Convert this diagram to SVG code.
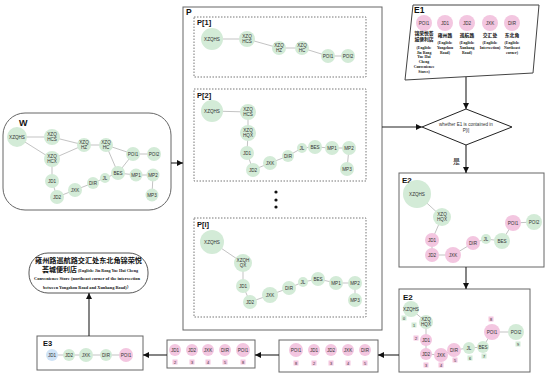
<svg xmlns="http://www.w3.org/2000/svg" width="550" height="378" viewBox="0 0 550 378">
<style>
.g{fill:#d3ebd7}
.p{fill:#f3c6e0}
.b{fill:#cfe3f6}
.t{font-family:"Liberation Sans",Arial,sans-serif;font-size:4.6px;fill:#333;text-anchor:middle}
.e{stroke:#9a9a9a;stroke-width:0.6;fill:none}
.c{stroke:#222;stroke-width:1.1;fill:none;marker-end:url(#ah)}
.box{fill:#fff;stroke:#666;stroke-width:1}
.dash{fill:none;stroke:#777;stroke-width:1;stroke-dasharray:1.5 1.5}
.lab{font-family:"Liberation Sans",Arial,sans-serif;font-weight:bold;fill:#111}
.cn{font-family:"Liberation Serif","Noto Sans CJK SC",serif;font-weight:bold;fill:#111;text-anchor:middle}
.en{font-family:"Liberation Serif","Noto Sans CJK SC",serif;font-weight:bold;fill:#111;text-anchor:middle;font-size:3.8px}
.n{font-family:"Liberation Sans",Arial,sans-serif;font-size:3.8px;fill:#333;text-anchor:middle}
</style>
<defs>
<marker id="ah" markerUnits="userSpaceOnUse" markerWidth="6" markerHeight="6" refX="6" refY="3" orient="auto"><path d="M0,0 L6,3 L0,6 z" fill="#111"/></marker>
</defs>
<rect width="550" height="378" fill="#fff"/>

<!-- containers -->
<g id="W-box"><rect x="3" y="113" width="168" height="97" rx="22" class="box" stroke="#222"/><text x="19" y="126" class="lab" font-size="9">W</text></g>
<g id="P-box"><rect x="183" y="7" width="199" height="323" class="box"/><text x="186" y="15" class="lab" font-size="8.5">P</text>
<rect x="194" y="17" width="172" height="60" class="dash"/><text x="197" y="25" class="lab" font-size="7.5">P[1]</text>
<rect x="194" y="89" width="172" height="92" class="dash"/><text x="197" y="98" class="lab" font-size="7.5">P[2]</text>
<rect x="194" y="218" width="172" height="99" class="dash"/><text x="197" y="227" class="lab" font-size="7.5">P[i]</text>
<circle cx="276" cy="192" r="1.6" fill="#111"/><circle cx="276" cy="200" r="1.6" fill="#111"/><circle cx="276" cy="207" r="1.6" fill="#111"/></g>
<g id="E1-box"><polygon points="413,5 539,5 533,73 405,80" fill="#fff" stroke="#444" stroke-width="1"/><text x="414" y="13" class="lab" font-size="8.5">E1</text></g>
<g id="decision"><polygon points="466,109 512,127 466,145 422,127" fill="#fff" stroke="#222" stroke-width="1"/>
<text x="466" y="126" class="t" font-size="4.2">whether E1 is contained in</text><text x="466" y="132" class="t" font-size="4.2">P[i]</text></g>
<g id="E2-box"><rect x="399" y="173" width="145" height="94" class="box"/><text x="402" y="183" class="lab" font-size="8">E2</text></g>
<g id="E2b-box"><rect x="399" y="289" width="131" height="83" class="box"/><text x="403" y="300" class="lab" font-size="8">E2</text></g>
<g id="A-box"><rect x="279" y="340" width="99" height="32" class="box"/></g>
<g id="B-box"><rect x="167" y="340" width="88" height="28" class="box"/></g>
<g id="E3-box"><rect x="37" y="336" width="106" height="34" class="box"/><text x="43" y="346" class="lab" font-size="7.5">E3</text></g>
<g id="result"><rect x="29" y="253" width="119" height="40" rx="19" fill="#fff" stroke="#444" stroke-width="0.9"/>
<text x="88.5" y="263" class="cn" font-size="7" textLength="107" lengthAdjust="spacingAndGlyphs">雍州路巡航路交汇处东北角锦荣悦</text>
<text x="59.5" y="272" class="cn" font-size="7" textLength="35" lengthAdjust="spacingAndGlyphs">荟城便利店</text>
<text x="108" y="271.5" class="cn" font-size="4" textLength="60" lengthAdjust="spacingAndGlyphs">(English:  Jin Rong Yue Hui Cheng</text>
<text x="87" y="280" class="cn" font-size="4" textLength="106" lengthAdjust="spacingAndGlyphs">Convenience Store (northeast corner of the intersection</text>
<text x="87" y="289" class="cn" font-size="4" textLength="88" lengthAdjust="spacingAndGlyphs">between Yongzhou Road and Xunhang Road)）</text></g>

<!-- connectors -->
<g id="connectors">
<line x1="171" y1="163" x2="183" y2="163" class="c"/>
<line x1="466" y1="77" x2="466" y2="109" class="c"/>
<line x1="382" y1="127" x2="422" y2="127" class="c"/>
<line x1="466" y1="145" x2="466" y2="173" class="c"/>
<line x1="466" y1="267" x2="466" y2="289" class="c"/>
<line x1="399" y1="355" x2="378" y2="355" class="c"/>
<line x1="279" y1="355" x2="255" y2="355" class="c"/>
<line x1="167" y1="355" x2="143" y2="355" class="c"/>
<line x1="89" y1="336" x2="89" y2="293" class="c"/>
<text x="453" y="164" font-family="'Noto Sans CJK SC',sans-serif" font-size="7" fill="#222">是</text>
<!-- W edges -->
<path class="e" d="M17,137 L52,137 M17,137 L52,159 M52,137 L84,145 M52,159 L84,145 M84,145 L106,145 M106,145 L133,154 M106,145 L118,173 M133,154 L154,154 M118,173 L133,154 M52,159 L52,181 M52,181 L57,197 M57,197 L75,190 M75,190 L93,183 M93,183 L105,178 M105,178 L118,173 M118,173 L136,175 M136,175 L153,175 M153,175 L152,195"/>
<!-- P1 edges -->
<path class="e" d="M212,39 L247,39 L279,48 L302,48 L328,56 L348,56"/>
<!-- P2 edges -->
<path class="e" d="M212,111 L248,112 L248,133 L247,153 L253,170 L270,163 L288,156 L302,148 L315,147 L332,148 L349,148 L347,169"/>
<!-- Pi edges -->
<path class="e" d="M212,242 L243,263 L243,286 L250,302 L270,295 L289,288 L303,282 L318,279 L336,283 L355,283 L355,300"/>
<!-- E2 edges -->
<path class="e" d="M417,194 L442,217 L432,240 L432,255 L453,255 L473,243 L486,239 L502,241 L513,223 L534,222"/>
<path class="e" d="M411,309 L426,322 L426,340 L426,354 L441,355 L454,350 L469,348 L483,347 L492,332 L516,332"/>
<!-- row edges -->
<path class="e" d="M52,355 L126,355"/>
</g>

<!-- W nodes -->
<g id="w-xzqhs"><circle cx="17" cy="137" r="10" class="g"/><text x="17" y="138.7" class="t">XZQHS</text></g>
<g id="w-hcs"><circle cx="52" cy="137" r="8" class="g"/><text x="52" y="136" class="t">XZQ</text><text x="52" y="141" class="t">HCS</text></g>
<g id="w-hcx"><circle cx="52" cy="159" r="8" class="g"/><text x="52" y="158" class="t">XZQ</text><text x="52" y="163" class="t">HCX</text></g>
<g id="w-hz"><circle cx="84" cy="145" r="7" class="g"/><text x="84" y="144" class="t">XZQ</text><text x="84" y="149" class="t">HZ</text></g>
<g id="w-hc"><circle cx="106" cy="145" r="7" class="g"/><text x="106" y="144" class="t">XZQ</text><text x="106" y="149" class="t">HC</text></g>
<g id="w-poi1"><circle cx="133" cy="154" r="7" class="g"/><text x="133" y="155.6" class="t">POI1</text></g>
<g id="w-poi2"><circle cx="154" cy="154" r="7" class="g"/><text x="154" y="155.6" class="t">POI2</text></g>
<g id="w-bes"><circle cx="118" cy="173" r="7" class="g"/><text x="118" y="174.6" class="t">BES</text></g>
<g id="w-mp1"><circle cx="136" cy="175" r="6.5" class="g"/><text x="136" y="176.6" class="t">MP1</text></g>
<g id="w-mp2"><circle cx="153" cy="175" r="6.5" class="g"/><text x="153" y="176.6" class="t">MP2</text></g>
<g id="w-mp3"><circle cx="152" cy="195" r="6.5" class="g"/><text x="152" y="196.6" class="t">MP3</text></g>
<g id="w-jd1"><circle cx="52" cy="181" r="7" class="g"/><text x="52" y="182.6" class="t">JD1</text></g>
<g id="w-jd2"><circle cx="57" cy="197" r="7" class="g"/><text x="57" y="198.6" class="t">JD2</text></g>
<g id="w-jxk"><circle cx="75" cy="190" r="7" class="g"/><text x="75" y="191.6" class="t">JXK</text></g>
<g id="w-dir"><circle cx="93" cy="183" r="6" class="g"/><text x="93" y="184.6" class="t">DIR</text></g>
<g id="w-jl"><circle cx="105" cy="178" r="5" class="g"/><text x="105" y="179.6" class="t">JL</text></g>

<!-- P[1] nodes -->
<g id="p1-xzqhs"><circle cx="212" cy="39" r="11" class="g"/><text x="212" y="40.6" class="t">XZQHS</text></g>
<g id="p1-hcs"><circle cx="247" cy="39" r="8" class="g"/><text x="247" y="38" class="t">XZQ</text><text x="247" y="43" class="t">HCS</text></g>
<g id="p1-hz"><circle cx="279" cy="48" r="7" class="g"/><text x="279" y="47" class="t">XZQ</text><text x="279" y="52" class="t">HZ</text></g>
<g id="p1-hc"><circle cx="302" cy="48" r="7" class="g"/><text x="302" y="47" class="t">XZQ</text><text x="302" y="52" class="t">HC</text></g>
<g id="p1-poi1"><circle cx="328" cy="56" r="7" class="g"/><text x="328" y="57.6" class="t">POI1</text></g>
<g id="p1-poi2"><circle cx="348" cy="56" r="7" class="g"/><text x="348" y="57.6" class="t">POI2</text></g>

<!-- P[2] nodes -->
<g id="p2-xzqhs"><circle cx="212" cy="111" r="11" class="g"/><text x="212" y="112.6" class="t">XZQHS</text></g>
<g id="p2-hcs"><circle cx="248" cy="112" r="8" class="g"/><text x="248" y="111" class="t">XZQ</text><text x="248" y="116" class="t">HCS</text></g>
<g id="p2-hqx"><circle cx="248" cy="133" r="8" class="g"/><text x="248" y="132" class="t">XZQ</text><text x="248" y="137" class="t">HQX</text></g>
<g id="p2-jd1"><circle cx="247" cy="153" r="7" class="g"/><text x="247" y="154.6" class="t">JD1</text></g>
<g id="p2-jd2"><circle cx="253" cy="170" r="7" class="g"/><text x="253" y="171.6" class="t">JD2</text></g>
<g id="p2-jxk"><circle cx="270" cy="163" r="7" class="g"/><text x="270" y="164.6" class="t">JXK</text></g>
<g id="p2-dir"><circle cx="288" cy="156" r="6" class="g"/><text x="288" y="157.6" class="t">DIR</text></g>
<g id="p2-jl"><circle cx="302" cy="148" r="5" class="g"/><text x="302" y="149.6" class="t">JL</text></g>
<g id="p2-bes"><circle cx="315" cy="147" r="7" class="g"/><text x="315" y="148.6" class="t">BES</text></g>
<g id="p2-mp1"><circle cx="332" cy="148" r="7" class="g"/><text x="332" y="149.6" class="t">MP1</text></g>
<g id="p2-mp2"><circle cx="349" cy="148" r="7" class="g"/><text x="349" y="149.6" class="t">MP2</text></g>
<g id="p2-mp3"><circle cx="347" cy="169" r="7" class="g"/><text x="347" y="170.6" class="t">MP3</text></g>

<!-- P[i] nodes -->
<g id="pi-xzqhs"><circle cx="212" cy="242" r="12" class="g"/><text x="212" y="243.6" class="t">XZQHS</text></g>
<g id="pi-xzqhqx"><circle cx="243" cy="263" r="9" class="g"/><text x="243" y="262" class="t">XZQH</text><text x="243" y="267" class="t">QX</text></g>
<g id="pi-jd1"><circle cx="243" cy="286" r="7" class="g"/><text x="243" y="287.6" class="t">JD1</text></g>
<g id="pi-jd2"><circle cx="250" cy="302" r="7" class="g"/><text x="250" y="303.6" class="t">JD2</text></g>
<g id="pi-jxk"><circle cx="270" cy="295" r="8" class="g"/><text x="270" y="296.6" class="t">JXK</text></g>
<g id="pi-dir"><circle cx="289" cy="288" r="7" class="g"/><text x="289" y="289.6" class="t">DIR</text></g>
<g id="pi-jl"><circle cx="303" cy="282" r="5" class="g"/><text x="303" y="283.6" class="t">JL</text></g>
<g id="pi-bes"><circle cx="318" cy="279" r="7" class="g"/><text x="318" y="280.6" class="t">BES</text></g>
<g id="pi-mp1"><circle cx="336" cy="283" r="7" class="g"/><text x="336" y="284.6" class="t">MP1</text></g>
<g id="pi-mp2"><circle cx="355" cy="283" r="7" class="g"/><text x="355" y="284.6" class="t">MP2</text></g>
<g id="pi-mp3"><circle cx="355" cy="300" r="7" class="g"/><text x="355" y="301.6" class="t">MP3</text></g>

<!-- E1 nodes -->
<g id="e1-poi1"><circle cx="424" cy="23" r="8" class="p"/><text x="424" y="24.6" class="t">POI1</text>
<text x="424" y="35" class="cn" font-size="4.8">锦荣悦荟</text><text x="424" y="41" class="cn" font-size="4.8">城便利店</text>
<text x="424" y="49" class="en">(English:</text><text x="424" y="53.5" class="en">Jin Rong</text><text x="424" y="58" class="en">Yue Hui</text><text x="424" y="63" class="en">Cheng</text><text x="424" y="68" class="en">Convenience</text><text x="424" y="73" class="en">Stores)</text></g>
<g id="e1-jd1"><circle cx="445" cy="23" r="8" class="p"/><text x="445" y="24.6" class="t">JD1</text>
<text x="445" y="37" class="cn" font-size="4.8">雍州路</text><text x="445" y="43.5" class="en">(English:</text><text x="445" y="48.5" class="en">Yongzhou</text><text x="445" y="54" class="en">Road)</text></g>
<g id="e1-jd2"><circle cx="467" cy="23" r="8" class="p"/><text x="467" y="24.6" class="t">JD2</text>
<text x="467" y="37" class="cn" font-size="4.8">巡航路</text><text x="467" y="43.5" class="en">(English:</text><text x="467" y="48.5" class="en">Xunhang</text><text x="467" y="54" class="en">Road)</text></g>
<g id="e1-jxk"><circle cx="490" cy="23" r="8" class="p"/><text x="490" y="24.6" class="t">JXK</text>
<text x="490" y="37" class="cn" font-size="4.8">交汇处</text><text x="490" y="43.5" class="en">(English:</text><text x="490" y="48.5" class="en">Intersection)</text></g>
<g id="e1-dir"><circle cx="512" cy="23" r="8" class="p"/><text x="512" y="24.6" class="t">DIR</text>
<text x="512" y="37" class="cn" font-size="4.8">东北角</text><text x="512" y="43.5" class="en">(English:</text><text x="512" y="48.5" class="en">Northeast</text><text x="512" y="54" class="en">corner)</text></g>

<!-- E2 nodes -->
<g id="e2-xzqhs"><circle cx="417" cy="194" r="14" class="g"/><text x="417" y="195.6" class="t">XZQHS</text></g>
<g id="e2-hqx"><circle cx="442" cy="217" r="9" class="g"/><text x="442" y="216" class="t">XZQ</text><text x="442" y="221" class="t">HQX</text></g>
<g id="e2-jd1"><circle cx="432" cy="240" r="7" class="p"/><text x="432" y="241.6" class="t">JD1</text></g>
<g id="e2-jd2"><circle cx="432" cy="255" r="7" class="p"/><text x="432" y="256.6" class="t">JD2</text></g>
<g id="e2-jxk"><circle cx="453" cy="255" r="8" class="p"/><text x="453" y="256.6" class="t">JXK</text></g>
<g id="e2-dir"><circle cx="473" cy="243" r="7" class="p"/><text x="473" y="244.6" class="t">DIR</text></g>
<g id="e2-jl"><circle cx="486" cy="239" r="5" class="g"/><text x="486" y="240.6" class="t">JL</text></g>
<g id="e2-bes"><circle cx="502" cy="241" r="8" class="g"/><text x="502" y="242.6" class="t">BES</text></g>
<g id="e2-poi1"><circle cx="513" cy="223" r="8" class="p"/><text x="513" y="224.6" class="t">POI1</text></g>
<g id="e2-poi2"><circle cx="534" cy="222" r="8" class="g"/><text x="534" y="223.6" class="t">POI2</text></g>

<!-- E2 numbered nodes -->
<g id="e2b-xzqhs"><circle cx="411" cy="309" r="8" class="g"/><text x="411" y="310.6" class="t">XZQHS</text><rect x="401.5" y="315.5" width="5" height="5" class="g"/><text x="404" y="319.5" class="n">0</text></g>
<g id="e2b-hqx"><circle cx="426" cy="322" r="7" class="g"/><text x="426" y="321" class="t">XZQ</text><text x="426" y="326" class="t">HQX</text><rect x="411.5" y="322.5" width="5" height="5" class="g"/><text x="414" y="326.5" class="n">1</text></g>
<g id="e2b-jd1"><circle cx="426" cy="340" r="6" class="p"/><text x="426" y="341.6" class="t">JD1</text><rect x="413.5" y="335.5" width="5" height="5" class="p"/><text x="416" y="339.5" class="n">2</text></g>
<g id="e2b-jd2"><circle cx="426" cy="354" r="6" class="p"/><text x="426" y="355.6" class="t">JD2</text><rect x="423.5" y="362.5" width="5" height="5" class="p"/><text x="426" y="366.5" class="n">3</text></g>
<g id="e2b-jxk"><circle cx="441" cy="355" r="7" class="p"/><text x="441" y="356.6" class="t">JXK</text><rect x="438.5" y="362.5" width="5" height="5" class="p"/><text x="441" y="366.5" class="n">4</text></g>
<g id="e2b-dir"><circle cx="454" cy="350" r="7" class="p"/><text x="454" y="351.6" class="t">DIR</text><rect x="452.5" y="357.5" width="5" height="5" class="p"/><text x="455" y="361.5" class="n">5</text></g>
<g id="e2b-jl"><circle cx="469" cy="348" r="6" class="g"/><text x="469" y="349.6" class="t">JL</text><rect x="467.5" y="355.5" width="5" height="5" class="g"/><text x="470" y="359.5" class="n">6</text></g>
<g id="e2b-bes"><circle cx="483" cy="347" r="6" class="g"/><text x="483" y="348.6" class="t">BES</text><rect x="481.5" y="353.5" width="5" height="5" class="g"/><text x="484" y="357.5" class="n">7</text></g>
<g id="e2b-poi1"><circle cx="492" cy="332" r="8" class="p"/><text x="492" y="333.6" class="t">POI1</text><rect x="488.5" y="316.5" width="5" height="5" class="p"/><text x="491" y="320.5" class="n">8</text></g>
<g id="e2b-poi2"><circle cx="516" cy="332" r="8" class="g"/><text x="516" y="333.6" class="t">POI2</text><rect x="515.5" y="341.5" width="5" height="5" class="g"/><text x="518" y="345.5" class="n">9</text></g>

<!-- Box A -->
<g id="a-poi1"><circle cx="296" cy="350" r="7" class="p"/><text x="296" y="351.6" class="t">POI1</text><rect x="293.5" y="360.5" width="5" height="5" class="p"/><text x="296" y="364.5" class="n">8</text></g>
<g id="a-jd1"><circle cx="314" cy="350" r="6" class="p"/><text x="314" y="351.6" class="t">JD1</text><rect x="311.5" y="360.5" width="5" height="5" class="p"/><text x="314" y="364.5" class="n">2</text></g>
<g id="a-jd2"><circle cx="331" cy="350" r="6" class="p"/><text x="331" y="351.6" class="t">JD2</text><rect x="328.5" y="360.5" width="5" height="5" class="p"/><text x="331" y="364.5" class="n">3</text></g>
<g id="a-jxk"><circle cx="348" cy="350" r="6" class="p"/><text x="348" y="351.6" class="t">JXK</text><rect x="345.5" y="360.5" width="5" height="5" class="p"/><text x="348" y="364.5" class="n">4</text></g>
<g id="a-dir"><circle cx="365" cy="350" r="6" class="p"/><text x="365" y="351.6" class="t">DIR</text><rect x="362.5" y="360.5" width="5" height="5" class="p"/><text x="365" y="364.5" class="n">5</text></g>

<!-- Box B -->
<g id="b-jd1"><circle cx="175" cy="350" r="6" class="p"/><text x="175" y="351.6" class="t">JD1</text><rect x="172.5" y="359.5" width="5" height="5" class="p"/><text x="175" y="363.5" class="n">2</text></g>
<g id="b-jd2"><circle cx="192" cy="350" r="6" class="p"/><text x="192" y="351.6" class="t">JD2</text><rect x="189.5" y="359.5" width="5" height="5" class="p"/><text x="192" y="363.5" class="n">3</text></g>
<g id="b-jxk"><circle cx="208" cy="350" r="6" class="p"/><text x="208" y="351.6" class="t">JXK</text><rect x="205.5" y="359.5" width="5" height="5" class="p"/><text x="208" y="363.5" class="n">4</text></g>
<g id="b-dir"><circle cx="225" cy="350" r="6" class="p"/><text x="225" y="351.6" class="t">DIR</text><rect x="222.5" y="359.5" width="5" height="5" class="p"/><text x="225" y="363.5" class="n">5</text></g>
<g id="b-poi1"><circle cx="243" cy="350" r="7" class="p"/><text x="243" y="351.6" class="t">POI1</text><rect x="240.5" y="359.5" width="5" height="5" class="p"/><text x="243" y="363.5" class="n">8</text></g>

<!-- E3 nodes -->
<g id="e3-jd1"><circle cx="52" cy="355" r="6" class="b"/><text x="52" y="356.6" class="t">JD1</text></g>
<g id="e3-jd2"><circle cx="69" cy="355" r="6" class="g"/><text x="69" y="356.6" class="t">JD2</text></g>
<g id="e3-jxk"><circle cx="86" cy="355" r="7" class="g"/><text x="86" y="356.6" class="t">JXK</text></g>
<g id="e3-dir"><circle cx="106" cy="355" r="6" class="g"/><text x="106" y="356.6" class="t">DIR</text></g>
<g id="e3-poi1"><circle cx="126" cy="355" r="7" class="p"/><text x="126" y="356.6" class="t">POI1</text></g>
</svg>
